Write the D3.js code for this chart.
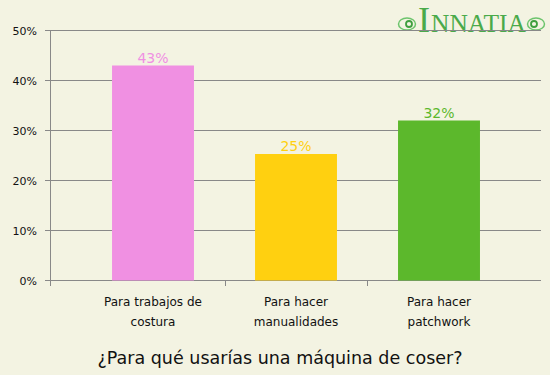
<!DOCTYPE html>
<html>
<head>
<meta charset="utf-8">
<script src="https://cdn.jsdelivr.net/npm/d3@7"></script>
<style>
  body { margin: 0; background: #f3f3e2; }
  svg { display: block; font-family: "DejaVu Sans", sans-serif; }
</style>
</head>
<body>
<div id="chart"></div>
<script>
const categories = [["Para trabajos de", "costura"], ["Para hacer", "manualidades"], ["Para hacer", "patchwork"]];
const values = [43, 25.3, 32];
const labels = ["43%", "25%", "32%"];
const colors = ["#f090e2", "#ffd010", "#5cb82c"];
const yTicks = [0, 10, 20, 30, 40, 50];
const title = "¿Para qué usarías una máquina de coser?";

const width = 550, height = 375;
const svg = d3.select("#chart").append("svg")
  .attr("width", width).attr("height", height);

svg.append("rect").attr("width", width).attr("height", height).attr("fill", "#f3f3e2");

const y = d3.scaleLinear().domain([0, 50]).range([280.5, 30.5]);
const x = d3.scaleBand()
  .domain(d3.range(categories.length))
  .range([81.5, 510.5])
  .paddingInner(0.427)
  .paddingOuter(0.2135);

// logo (drawn under the gridlines)
const logo = svg.append("g");
logo.append("text").attr("x", 418).attr("y", 32)
  .attr("font-family", "Liberation Serif, serif").attr("font-size", 36).attr("fill", "#4aaa4a")
  .text("I");
logo.append("text").attr("x", 431).attr("y", 32)
  .attr("font-family", "Liberation Serif, serif").attr("font-size", 25).attr("fill", "#4aaa4a")
  .attr("textLength", 95).attr("lengthAdjust", "spacingAndGlyphs")
  .text("NNATIA");
[[407, 24], [536, 24]].forEach(([cx, cy], k) => {
  logo.append("ellipse").attr("cx", cx).attr("cy", cy).attr("rx", 8.5).attr("ry", 6)
    .attr("fill", "none").attr("stroke", "#6cc46c").attr("stroke-width", 1.5);
  logo.append("circle").attr("cx", cx + (k ? -2 : 2)).attr("cy", cy).attr("r", 3)
    .attr("fill", "none").attr("stroke", "#3f9f3f").attr("stroke-width", 1.8);
});

// gridlines
svg.append("g").selectAll("line").data(yTicks).join("line")
  .attr("x1", 45).attr("x2", 541)
  .attr("y1", d => y(d)).attr("y2", d => y(d))
  .attr("stroke", "#888").attr("stroke-width", 1);

// y axis line
svg.append("line").attr("x1", 50.5).attr("x2", 50.5)
  .attr("y1", 30).attr("y2", 286).attr("stroke", "#888");

// x ticks at band boundaries
const step = x.step();
const bounds = [1, 2].map(i => x(i) - (step - x.bandwidth()) / 2);
svg.append("g").selectAll("line").data(bounds).join("line")
  .attr("x1", d => Math.round(d) + 0.5).attr("x2", d => Math.round(d) + 0.5)
  .attr("y1", 281).attr("y2", 286).attr("stroke", "#888");

// y tick labels
svg.append("g").selectAll("text").data(yTicks).join("text")
  .attr("x", 37).attr("y", d => y(d) + 4)
  .attr("text-anchor", "end").attr("font-size", 11).attr("fill", "#111")
  .text(d => d + "%");

// bars
svg.append("g").selectAll("rect").data(values).join("rect")
  .attr("x", (d, i) => x(i)).attr("width", x.bandwidth())
  .attr("y", d => y(d)).attr("height", d => y(0) - y(d))
  .attr("fill", (d, i) => colors[i]);

// value labels
svg.append("g").selectAll("text").data(values).join("text")
  .attr("x", (d, i) => x(i) + x.bandwidth() / 2)
  .attr("y", d => y(d) - 3)
  .attr("text-anchor", "middle").attr("font-size", 14)
  .attr("fill", (d, i) => colors[i])
  .text((d, i) => labels[i]);

// category labels
const cat = svg.append("g").selectAll("text").data(categories).join("text")
  .attr("text-anchor", "middle").attr("font-size", 12).attr("fill", "#111");
cat.selectAll("tspan").data((d, i) => d.map(t => ({ t, i }))).join("tspan")
  .attr("x", d => x(d.i) + x.bandwidth() / 2)
  .attr("y", (d, j) => 306 + j * 20)
  .text(d => d.t);

// title
svg.append("text").attr("x", 280).attr("y", 364)
  .attr("text-anchor", "middle").attr("font-size", 17.5).attr("fill", "#111")
  .text(title);
</script>
</body>
</html>
